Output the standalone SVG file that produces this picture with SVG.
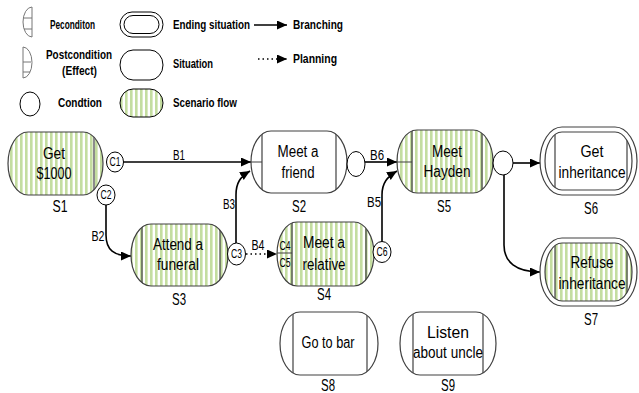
<svg xmlns="http://www.w3.org/2000/svg" xmlns:xlink="http://www.w3.org/1999/xlink" width="639" height="393" viewBox="0 0 639 393">
<style>
text{font-family:"Liberation Sans Narrow","Arial Narrow","Liberation Sans",Arial,sans-serif;fill:#000}
.nt{font-size:16px;text-anchor:middle}
.sl{font-size:16px;text-anchor:middle}
.bl{font-size:14px;text-anchor:middle}
.cl{font-size:12px;text-anchor:middle}
.lg{font-size:13px;font-weight:bold}
.edge{fill:none;stroke:#404040;stroke-width:1.2}
.inl{stroke:#404040;stroke-width:1.2}
.sw{fill:#fff}
.sg{fill:url(#stripes)}
.cond{fill:#fff;stroke:#000;stroke-width:1}
.conn{fill:none;stroke:#000;stroke-width:1.6;marker-end:url(#ah)}
.plan{fill:none;stroke:#000;stroke-width:1.6;stroke-dasharray:1.5 3;marker-end:url(#ah)}
.ic{fill:none;stroke:#777;stroke-width:1}
</style>
<defs>
<pattern id="stripes" patternUnits="userSpaceOnUse" width="5" height="10">
<rect width="5" height="10" fill="#fff"/>
<rect width="2.6" height="10" fill="#c4dda0"/>
</pattern>
<marker id="ah" markerUnits="userSpaceOnUse" markerWidth="10" markerHeight="9" refX="10" refY="4.5" orient="auto">
<path d="M0,0 L10,4.5 L0,9 Z" fill="#000"/>
</marker>
<rect id="rS1" x="8" y="132" width="95" height="63" rx="20" ry="31.5"/>
<rect id="rS2" x="251" y="131" width="96" height="62" rx="20" ry="31"/>
<rect id="rS3" x="131" y="224" width="97" height="62" rx="20" ry="31"/>
<rect id="rS4" x="277" y="222" width="97" height="64" rx="20" ry="32"/>
<rect id="rS5" x="397" y="130" width="96" height="63" rx="20" ry="31.5"/>
<rect id="rS6" x="545" y="132" width="87" height="58" rx="17" ry="29"/>
<rect id="rS7" x="545" y="243" width="87" height="58" rx="17" ry="29"/>
<rect id="rS8" x="280" y="312" width="98" height="63" rx="20" ry="31.5"/>
<rect id="rS9" x="400" y="312" width="96" height="63" rx="20" ry="31.5"/>
<clipPath id="cS1"><use xlink:href="#rS1"/></clipPath>
<clipPath id="cS2"><use xlink:href="#rS2"/></clipPath>
<clipPath id="cS3"><use xlink:href="#rS3"/></clipPath>
<clipPath id="cS4"><use xlink:href="#rS4"/></clipPath>
<clipPath id="cS5"><use xlink:href="#rS5"/></clipPath>
<clipPath id="cS6"><use xlink:href="#rS6"/></clipPath>
<clipPath id="cS7"><use xlink:href="#rS7"/></clipPath>
<clipPath id="cS8"><use xlink:href="#rS8"/></clipPath>
<clipPath id="cS9"><use xlink:href="#rS9"/></clipPath>
</defs>
<rect width="639" height="393" fill="#fff"/>

<g id="legend">
<path class="ic" d="M32,7 A9,15 0 0 0 32,37 Z M24,18 H32 M24,29 H32"/>
<text class="lg" x="50" y="29" textLength="45" lengthAdjust="spacingAndGlyphs">Peconditon</text>
<path class="ic" d="M23,47 A9,15.5 0 0 1 23,78 Z M23,62 H31 M23,72 H30"/>
<text class="lg" x="46" y="59" textLength="66" lengthAdjust="spacingAndGlyphs">Postcondition</text>
<text class="lg" x="62" y="75" textLength="35" lengthAdjust="spacingAndGlyphs">(Effect)</text>
<ellipse cx="30" cy="104" rx="10" ry="12" class="cond"/>
<text class="lg" x="58" y="107" textLength="44" lengthAdjust="spacingAndGlyphs">Condtion</text>
<rect x="120" y="12" width="43" height="25" rx="12" ry="12.5" fill="#fff" stroke="#000"/>
<rect x="124" y="15.5" width="35" height="18" rx="9" ry="9" fill="none" stroke="#000"/>
<text class="lg" x="173" y="29" textLength="77" lengthAdjust="spacingAndGlyphs">Ending situation</text>
<rect x="120" y="50" width="43" height="30" rx="13" ry="15" fill="#fff" stroke="#000"/>
<text class="lg" x="173" y="68" textLength="40" lengthAdjust="spacingAndGlyphs">Situation</text>
<rect x="120" y="89" width="43" height="28" rx="13" ry="14" fill="url(#stripes)" stroke="#000"/>
<text class="lg" x="173" y="107" textLength="64" lengthAdjust="spacingAndGlyphs">Scenario flow</text>
<path class="conn" d="M254,25 H287"/>
<text class="lg" x="293" y="29" textLength="50" lengthAdjust="spacingAndGlyphs">Branching</text>
<path class="plan" d="M258,59 H287"/>
<text class="lg" x="293" y="63" textLength="44" lengthAdjust="spacingAndGlyphs">Planning</text>
</g>

<g id="connectors">
<path class="conn" d="M123,162 H251"/>
<text class="bl" x="179" y="160" textLength="12" lengthAdjust="spacingAndGlyphs">B1</text>
<path class="conn" d="M106,205 V235 C106,250 114,256 131,256"/>
<text class="bl" x="98" y="241" textLength="13" lengthAdjust="spacingAndGlyphs">B2</text>
<path class="conn" d="M236,243 V195 C236,183 240,177 250,171"/>
<text class="bl" x="229" y="209" textLength="12" lengthAdjust="spacingAndGlyphs">B3</text>
<path class="plan" d="M246,254 H277"/>
<text class="bl" x="258" y="250" textLength="13" lengthAdjust="spacingAndGlyphs">B4</text>
<path class="conn" d="M382,242 V195 C382,183 387,177 397,171"/>
<text class="bl" x="374" y="207" textLength="14" lengthAdjust="spacingAndGlyphs">B5</text>
<path class="conn" d="M365,162 H397"/>
<text class="bl" x="377" y="160" textLength="14" lengthAdjust="spacingAndGlyphs">B6</text>
<path class="conn" d="M513,163 H540"/>
<path class="conn" d="M504,175 V245 C504,262 516,272 540,272"/>
</g>

<g id="S1">
<use xlink:href="#rS1" class="sg"/>
<g clip-path="url(#cS1)"><line class="inl" x1="94" y1="130" x2="94" y2="197"/></g>
<use xlink:href="#rS1" class="edge"/>
<text class="nt" x="54" y="159" textLength="22" lengthAdjust="spacingAndGlyphs">Get</text>
<text class="nt" x="54" y="179" textLength="35" lengthAdjust="spacingAndGlyphs">$1000</text>
<text class="sl" x="60" y="212" textLength="15" lengthAdjust="spacingAndGlyphs">S1</text>
</g>

<g id="C1">
<ellipse cx="115" cy="162" rx="8.5" ry="10" class="cond"/>
<text class="cl" x="115" y="166" textLength="11" lengthAdjust="spacingAndGlyphs">C1</text>
</g>
<g id="C2">
<ellipse cx="106" cy="195" rx="9" ry="10" class="cond"/>
<text class="cl" x="106" y="199" textLength="11" lengthAdjust="spacingAndGlyphs">C2</text>
</g>

<g id="S2">
<use xlink:href="#rS2" class="sw"/>
<g clip-path="url(#cS2)"><line class="inl" x1="262" y1="129" x2="262" y2="195"/><line class="inl" x1="336" y1="129" x2="336" y2="195"/><line class="inl" x1="250" y1="162" x2="262" y2="162"/></g>
<use xlink:href="#rS2" class="edge"/>
<text class="nt" x="298" y="157" textLength="41" lengthAdjust="spacingAndGlyphs">Meet a</text>
<text class="nt" x="298" y="178" textLength="33" lengthAdjust="spacingAndGlyphs">friend</text>
<text class="sl" x="299" y="212" textLength="14" lengthAdjust="spacingAndGlyphs">S2</text>
</g>

<g id="cond-S2">
<ellipse cx="356" cy="164" rx="9" ry="12.5" class="cond"/>
</g>

<g id="S3">
<use xlink:href="#rS3" class="sg"/>
<g clip-path="url(#cS3)"><line class="inl" x1="142" y1="222" x2="142" y2="288"/><line class="inl" x1="220" y1="222" x2="220" y2="288"/></g>
<use xlink:href="#rS3" class="edge"/>
<text class="nt" x="178" y="250" textLength="50" lengthAdjust="spacingAndGlyphs">Attend a</text>
<text class="nt" x="178" y="270" textLength="42" lengthAdjust="spacingAndGlyphs">funeral</text>
<text class="sl" x="179" y="305" textLength="14" lengthAdjust="spacingAndGlyphs">S3</text>
</g>

<g id="C3">
<ellipse cx="236.5" cy="254" rx="9" ry="11" class="cond"/>
<text class="cl" x="236.5" y="258" textLength="11" lengthAdjust="spacingAndGlyphs">C3</text>
</g>

<g id="S4">
<use xlink:href="#rS4" class="sg"/>
<g clip-path="url(#cS4)"><line class="inl" x1="292" y1="220" x2="292" y2="288"/><line class="inl" x1="366" y1="220" x2="366" y2="288"/><line class="inl" x1="276" y1="253" x2="292" y2="253"/></g>
<use xlink:href="#rS4" class="edge"/>
<text class="cl" x="285" y="250" textLength="11" lengthAdjust="spacingAndGlyphs">C4</text>
<text class="cl" x="285" y="267" textLength="11" lengthAdjust="spacingAndGlyphs">C5</text>
<text class="nt" x="324" y="248" textLength="42" lengthAdjust="spacingAndGlyphs">Meet a</text>
<text class="nt" x="324" y="270" textLength="43" lengthAdjust="spacingAndGlyphs">relative</text>
<text class="sl" x="324" y="300" textLength="14" lengthAdjust="spacingAndGlyphs">S4</text>
</g>

<g id="C6">
<ellipse cx="382" cy="252" rx="9" ry="10.5" class="cond"/>
<text class="cl" x="382" y="256" textLength="11" lengthAdjust="spacingAndGlyphs">C6</text>
</g>

<g id="S5">
<use xlink:href="#rS5" class="sg"/>
<g clip-path="url(#cS5)"><line class="inl" x1="412" y1="128" x2="412" y2="195"/><line class="inl" x1="482" y1="128" x2="482" y2="195"/><line class="inl" x1="396" y1="162" x2="412" y2="162"/></g>
<use xlink:href="#rS5" class="edge"/>
<text class="nt" x="447" y="157" textLength="30" lengthAdjust="spacingAndGlyphs">Meet</text>
<text class="nt" x="447" y="177" textLength="47" lengthAdjust="spacingAndGlyphs">Hayden</text>
<text class="sl" x="444" y="212" textLength="14" lengthAdjust="spacingAndGlyphs">S5</text>
</g>

<g id="cond-S5">
<ellipse cx="503" cy="163" rx="10" ry="12" class="cond"/>
</g>

<g id="S6">
<rect x="540" y="127" width="97" height="68" rx="22" ry="34" fill="#fff" class="edge"/>
<use xlink:href="#rS6" class="sw"/>
<g clip-path="url(#cS6)"><line class="inl" x1="555" y1="130" x2="555" y2="192"/><line class="inl" x1="627" y1="130" x2="627" y2="192"/></g>
<use xlink:href="#rS6" class="edge"/>
<text class="nt" x="592" y="157" textLength="23" lengthAdjust="spacingAndGlyphs">Get</text>
<text class="nt" x="592" y="178" textLength="67" lengthAdjust="spacingAndGlyphs">inheritance</text>
<text class="sl" x="591" y="214" textLength="14" lengthAdjust="spacingAndGlyphs">S6</text>
</g>

<g id="S7">
<rect x="540" y="238" width="97" height="68" rx="22" ry="34" fill="#fff" class="edge"/>
<use xlink:href="#rS7" class="sg"/>
<g clip-path="url(#cS7)"><line class="inl" x1="555" y1="241" x2="555" y2="303"/><line class="inl" x1="627" y1="241" x2="627" y2="303"/></g>
<use xlink:href="#rS7" class="edge"/>
<text class="nt" x="592" y="268" textLength="43" lengthAdjust="spacingAndGlyphs">Refuse</text>
<text class="nt" x="592" y="289" textLength="67" lengthAdjust="spacingAndGlyphs">inheritance</text>
<text class="sl" x="591" y="325" textLength="14" lengthAdjust="spacingAndGlyphs">S7</text>
</g>

<g id="S8">
<use xlink:href="#rS8" class="sw"/>
<g clip-path="url(#cS8)"><line class="inl" x1="293" y1="310" x2="293" y2="377"/><line class="inl" x1="367" y1="310" x2="367" y2="377"/></g>
<use xlink:href="#rS8" class="edge"/>
<text class="nt" x="328" y="348" textLength="53" lengthAdjust="spacingAndGlyphs">Go to bar</text>
<text class="sl" x="328" y="391" textLength="14" lengthAdjust="spacingAndGlyphs">S8</text>
</g>

<g id="S9">
<use xlink:href="#rS9" class="sw"/>
<g clip-path="url(#cS9)"><line class="inl" x1="413" y1="310" x2="413" y2="377"/><line class="inl" x1="483" y1="310" x2="483" y2="377"/></g>
<use xlink:href="#rS9" class="edge"/>
<text class="nt" x="448" y="338" textLength="42" lengthAdjust="spacingAndGlyphs">Listen</text>
<text class="nt" x="448" y="358" textLength="70" lengthAdjust="spacingAndGlyphs">about uncle</text>
<text class="sl" x="448" y="391" textLength="14" lengthAdjust="spacingAndGlyphs">S9</text>
</g>
</svg>
